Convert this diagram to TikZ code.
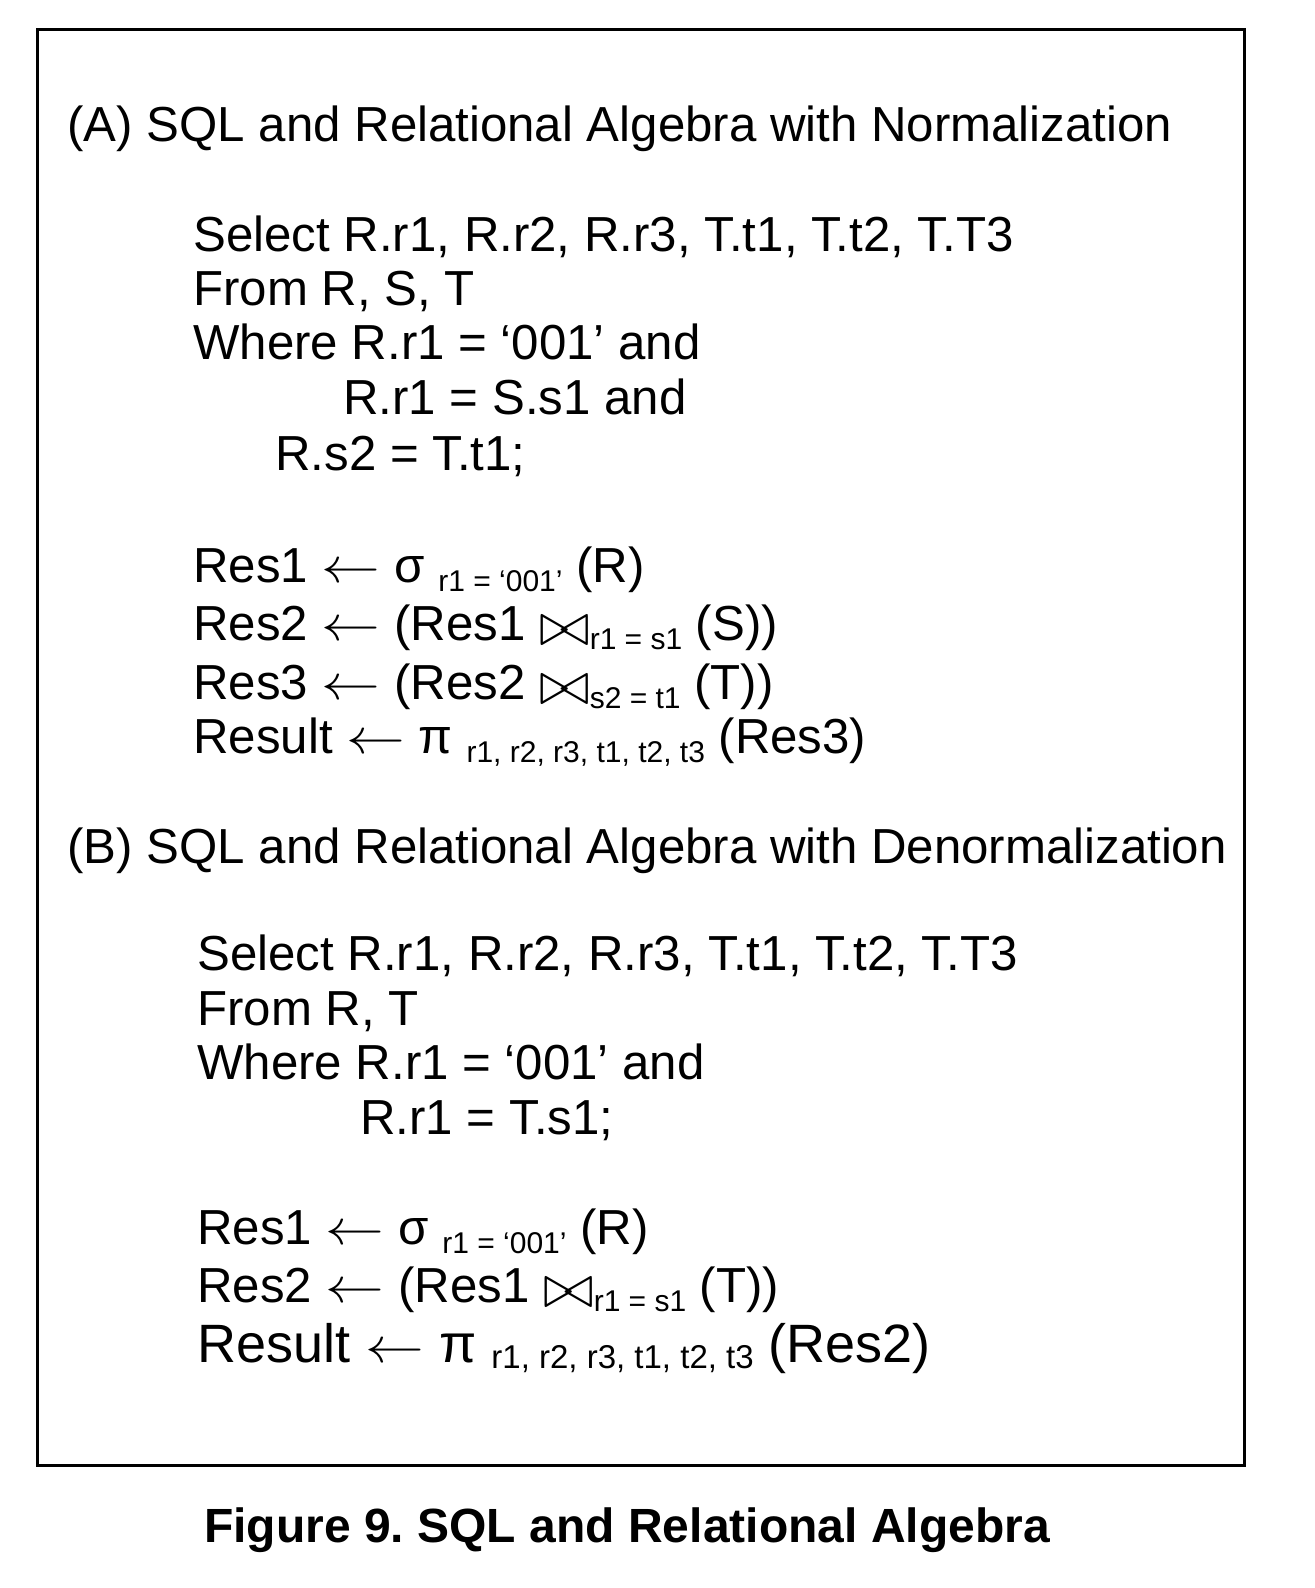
\documentclass[tikz,border=0pt]{standalone}
\usepackage{fontspec}
\setmainfont{Liberation Sans}
\usetikzlibrary{positioning}

\newcommand{\lowsub}[1]{\raisebox{-0.35ex}{\fontsize{15}{15}\selectfont #1}}
\newcommand{\getsarrow}{\scalebox{1.18}[1]{$\leftarrow$}}
\newcommand{\joinop}{\raisebox{-0.2ex}{\scalebox{1.25}{$\bowtie$}}}

\tikzset{
  txtline/.style={anchor=base west, inner sep=0pt, font=\fontsize{24.6}{28}\selectfont},
  bigline/.style={anchor=base west, inner sep=0pt, font=\fontsize{27}{30}\selectfont},
}

\begin{document}
\frenchspacing
\begin{tikzpicture}[x=0.5pt,y=-0.5pt]
\useasboundingbox (0,0) rectangle (1314,1588);

\draw[line width=1.5pt] (37,30) rectangle (1244,1465);

% part A
\node[txtline] (headA) at (67,142) {(A) SQL and Relational Algebra with Normalization};
\node[txtline] (selA) at (193,252) {Select R.r1, R.r2, R.r3, T.t1, T.t2, T.T3};
\node[txtline] (fromA) at (193,306) {From R, S, T};
\node[txtline] (whereA) at (193,360) {Where R.r1 = ‘001’ and};
\node[txtline] (condA) at (343,415) {R.r1 = S.s1 and};
\node[txtline] (condAA) at (275,470) {R.s2 = T.t1;};

\node[txtline] (resA1) at (193,582) {Res1 \getsarrow{} σ \lowsub{r1 = ‘001’} (R)};
\node[txtline] (resA2) at (193,640) {Res2 \getsarrow{} (Res1 \joinop\lowsub{r1 = s1} (S))};
\node[txtline] (resA3) at (193,699) {Res3 \getsarrow{} (Res2 \joinop\lowsub{s2 = t1} (T))};
\node[txtline] (resultA) at (193,753) {Result \getsarrow{} π \lowsub{r1, r2, r3, t1, t2, t3} (Res3)};

% part B
\node[txtline] (headB) at (67,863) {(B) SQL and Relational Algebra with Denormalization};
\node[txtline] (selB) at (197,970) {Select R.r1, R.r2, R.r3, T.t1, T.t2, T.T3};
\node[txtline] (fromB) at (197,1025) {From R, T};
\node[txtline] (whereB) at (197,1079) {Where R.r1 = ‘001’ and};
\node[txtline] (condB) at (360,1134) {R.r1 = T.s1;};

\node[txtline] (resB1) at (197,1244) {Res1 \getsarrow{} σ \lowsub{r1 = ‘001’} (R)};
\node[txtline] (resB2) at (197,1302) {Res2 \getsarrow{} (Res1 \joinop\lowsub{r1 = s1} (T))};
\node[bigline] (resultB) at (197,1362) {Result \getsarrow{} π {\fontsize{16.5}{16.5}\selectfont\raisebox{-0.35ex}{r1, r2, r3, t1, t2, t3}} (Res2)};

\node[anchor=base, inner sep=0pt, font=\fontsize{24}{28}\selectfont\bfseries] (caption) at (627,1542) {Figure 9. SQL and Relational Algebra};

\end{tikzpicture}
\end{document}
